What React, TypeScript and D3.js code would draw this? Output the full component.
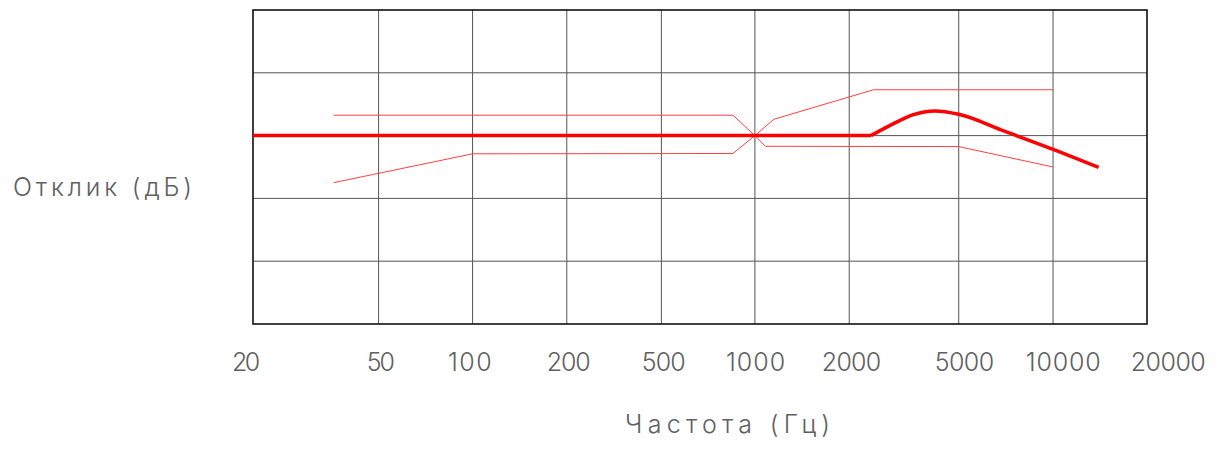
import React, { useEffect, useRef } from 'react';
import * as d3 from 'd3';

// Frequency ticks (Hz)
const freqTicks = [20, 50, 100, 200, 500, 1000, 2000, 5000, 10000, 20000];
const bandLines = [-30, -20, -10, 0, 10, 20];

// Measured response (thick): flat part, then the bump
const flatFreq = [20, 2400];
const flatDb = [0, 0];
const bumpFreq = [2400, 2900, 3400, 4100, 5000, 7000, 10000, 14000];
const bumpDb = [0, 1.9, 3.3, 3.92, 3.39, 0.7, -2.18, -5.05];

// Tolerance limits (thin)
const upperFreq = [36, 850, 1000, 1150, 2450, 10000];
const upperDb = [3.25, 3.25, 0, 2.6, 7.3, 7.3];
const lowerFreq = [36, 100, 850, 1000, 1080, 5000, 10000];
const lowerDb = [-7.5, -2.9, -2.85, 0, -1.7, -1.75, -5.0];

export default function App() {
  const svgRef = useRef<SVGSVGElement | null>(null);

  useEffect(() => {
    const width = 1221;
    const height = 450;
    const margin = { top: 10, right: 74, bottom: 126, left: 253 };
    const w = width - margin.left - margin.right;
    const h = height - margin.top - margin.bottom;

    const svg = d3.select(svgRef.current);
    svg.selectAll('*').remove();
    svg.attr('width', width).attr('height', height);

    // tick spacing of the drawing isn't a clean log scale, so piecewise
    const tickFrac = [0, 0.1405, 0.2456, 0.351, 0.4568, 0.5614, 0.6669, 0.7894, 0.8949, 1];
    const x = d3.scaleLog().domain(freqTicks).range(tickFrac.map(f => f * w));
    const y = d3.scaleLinear().domain([-30, 20]).range([h, 0]);
    // labels in the drawing sit a little off their grid lines
    const labelFrac = [-0.0078, 0.1431, 0.2425, 0.3532, 0.4594, 0.5622, 0.6695, 0.7958, 0.9064, 1.0238];
    const xl = d3.scaleOrdinal<number, number>().domain(freqTicks).range(labelFrac.map(f => f * w));

    const g = svg.append('g').attr('transform', `translate(${margin.left},${margin.top})`);

    // grid
    g.selectAll('.vgrid')
      .data(freqTicks.slice(1, -1))
      .join('line')
      .attr('x1', d => x(d)).attr('x2', d => x(d))
      .attr('y1', 0).attr('y2', h)
      .attr('stroke', '#555').attr('stroke-width', 1);

    g.selectAll('.hgrid')
      .data(bandLines.slice(1, -1))
      .join('line')
      .attr('x1', 0).attr('x2', w)
      .attr('y1', d => y(d)).attr('y2', d => y(d))
      .attr('stroke', '#555').attr('stroke-width', 1);

    g.append('rect')
      .attr('x', 0).attr('y', 0).attr('width', w).attr('height', h)
      .attr('fill', 'none').attr('stroke', '#111').attr('stroke-width', 1.6);

    // tolerance lines
    const line = d3.line<[number, number]>().x(d => x(d[0])).y(d => y(d[1]));
    const thin = [
      d3.zip(upperFreq, upperDb) as [number, number][],
      d3.zip(lowerFreq, lowerDb) as [number, number][],
    ];
    thin.forEach(pts => {
      g.append('path').datum(pts)
        .attr('fill', 'none').attr('stroke', '#ff4040').attr('stroke-width', 1)
        .attr('d', line);
    });

    // response curve
    const curve = d3.line<[number, number]>().x(d => x(d[0])).y(d => y(d[1])).curve(d3.curveMonotoneX);
    const thick = (sel: any) => sel
      .attr('fill', 'none').attr('stroke', '#ff0000').attr('stroke-width', 3.5)
      .attr('stroke-linejoin', 'round');
    g.append('path').datum(d3.zip(flatFreq, flatDb) as [number, number][])
      .call(thick).attr('d', line);
    g.append('path').datum(d3.zip(bumpFreq, bumpDb) as [number, number][])
      .call(thick).attr('d', curve);

    // tick labels
    const font = 'Inter, "Noto Sans", sans-serif';
    g.selectAll('.tick')
      .data(freqTicks)
      .join('text')
      .attr('x', d => xl(d)).attr('y', 361)
      .attr('text-anchor', 'middle')
      .attr('fill', '#606060')
      .attr('textLength', d => String(d).length * 15.6 - 3)
      .attr('lengthAdjust', 'spacing')
      .style('font-family', font).style('font-weight', 300)
      .style('font-size', '25px')
      .text(d => String(d));

    svg.append('text')
      .attr('x', 13).attr('y', 196)
      .attr('fill', '#606060')
      .attr('textLength', 179).attr('lengthAdjust', 'spacing')
      .style('font-family', font).style('font-weight', 300).style('font-size', '25px')
      .text('Отклик (дБ)');

    svg.append('text')
      .attr('x', 625).attr('y', 433)
      .attr('fill', '#606060')
      .attr('textLength', 205).attr('lengthAdjust', 'spacing')
      .style('font-family', font).style('font-weight', 300).style('font-size', '25px')
      .text('Частота (Гц)');
  }, []);

  return (
    <div style={{ position: 'absolute', left: 0, top: 0 }}>
      <svg ref={svgRef} />
    </div>
  );
}
